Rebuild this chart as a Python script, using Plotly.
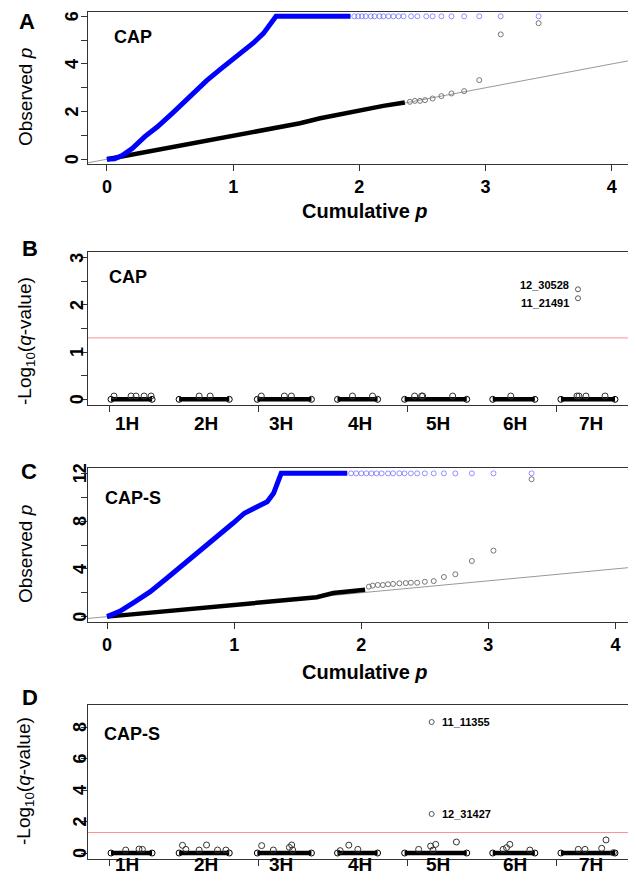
import math
import plotly.graph_objects as go

FONT = "Liberation Sans, Arial, sans-serif"
# page body has an 8px margin -> figure is drawn 8px in from the window edge
OFF = 8
W, H = 636 - OFF, 887 - OFF

# ---------------- Data ----------------
# Panel A (CAP) QQ plot
qqA_blue_dense_x = [0.00, 0.06, 0.12, 0.20, 0.30, 0.40, 0.53, 0.66, 0.79, 0.90, 1.00, 1.08, 1.16, 1.24, 1.30, 1.34, 1.93]
qqA_blue_dense_y = [0.00, 0.02, 0.15, 0.45, 0.95, 1.36, 1.99, 2.65, 3.30, 3.78, 4.18, 4.52, 4.88, 5.28, 5.68, 6.00, 6.00]
qqA_blue_sparse_x = [1.96, 1.99, 2.02, 2.05, 2.09, 2.12, 2.16, 2.19, 2.23, 2.27, 2.31, 2.35, 2.41, 2.46, 2.53,
                     2.58, 2.65, 2.73, 2.83, 2.95, 3.12, 3.42]
qqA_blue_sparse_y = [6.0] * 22
qqA_black_dense_x = [0.00, 0.50, 1.00, 1.53, 1.69, 1.85, 2.03, 2.19, 2.36]
qqA_black_dense_y = [0.00, 0.49, 0.98, 1.51, 1.72, 1.89, 2.11, 2.24, 2.38]
qqA_black_sparse_x = [2.40, 2.44, 2.48, 2.52, 2.58, 2.65, 2.73, 2.83, 2.95, 3.12, 3.42]
qqA_black_sparse_y = [2.41, 2.45, 2.45, 2.48, 2.55, 2.65, 2.76, 2.86, 3.32, 5.24, 5.71]

# Panel C (CAP-S) QQ plot
qqC_blue_dense_x = [0.00, 0.10, 0.20, 0.34, 0.47, 0.60, 0.73, 0.86, 0.99, 1.08, 1.15, 1.20, 1.26, 1.31, 1.35, 1.37, 1.89]
qqC_blue_dense_y = [0.00, 0.45, 1.12, 2.09, 3.21, 4.33, 5.45, 6.70, 7.82, 8.66, 9.08, 9.35, 9.63, 10.33, 11.30, 12.00, 12.00]
qqC_blue_sparse_x = [1.92, 1.96, 2.00, 2.04, 2.08, 2.12, 2.16, 2.21, 2.25, 2.30, 2.34, 2.39, 2.44, 2.50,
                     2.57, 2.65, 2.74, 2.87, 3.04, 3.34]
qqC_blue_sparse_y = [12.0] * 20
qqC_black_dense_x = [0.00, 0.50, 1.00, 1.52, 1.65, 1.78, 1.90, 2.03]
qqC_black_dense_y = [0.00, 0.50, 1.02, 1.45, 1.62, 1.98, 2.10, 2.25]
qqC_black_sparse_x = [2.06, 2.09, 2.13, 2.17, 2.21, 2.25, 2.30, 2.35, 2.39, 2.44, 2.50, 2.57, 2.65, 2.74,
                      2.87, 3.04, 3.34]
qqC_black_sparse_y = [2.51, 2.60, 2.65, 2.65, 2.71, 2.74, 2.79, 2.81, 2.84, 2.84, 2.92, 2.98, 3.32, 3.55,
                      4.66, 5.53, 11.51]

identity_line = [-1.0, 5.0]

# Manhattan plots (B: CAP, D: CAP-S); x = cumulative marker index
chrom_names = ["1H", "2H", "3H", "4H", "5H", "6H", "7H"]
chrom_label_pos = [240, 1298, 2313, 3370, 4412, 5455, 6469]
chrom_start = [27, 941, 1991, 3067, 3968, 5151, 6066]
chrom_end = [578, 1614, 2717, 3605, 4802, 5716, 6792]
x_ticks_pos = [0, 2000, 4000, 6000]
q_threshold = 0.05

manB_x = [67, 296, 363, 471, 565, 1210, 1358, 2044, 2354, 2448, 3268, 3537,
          4102, 4196, 4210, 4613, 5393, 6281, 6308, 6402, 6658]
manB_y = [0.07] * 21
manB_top_x = [6295, 6295]
manB_top_y = [2.33, 2.14]
manB_top_labels = ["12_30528", "11_21491"]
manB_label_y = [2.43, 2.05]

manD_x = [224, 403, 448, 986, 1032, 1210, 1309, 1457, 1569, 2049, 2206, 2421, 2452, 2466,
          3103, 3219, 3340, 4156, 4317, 4385, 4349, 4663, 5290, 5336, 5380, 5649,
          6299, 6389, 6613, 6671, 6770]
manD_y = [0.19, 0.25, 0.23, 0.49, 0.23, 0.19, 0.51, 0.19, 0.19, 0.47, 0.19, 0.36, 0.51, 0.19,
          0.15, 0.50, 0.23, 0.23, 0.44, 0.55, 0.19, 0.70, 0.23, 0.34, 0.55, 0.19,
          0.23, 0.23, 0.30, 0.83, 0.02]
manD_top_x = [4331, 4331]
manD_top_y = [8.32, 2.48]
manD_top_labels = ["11_11355", "12_31427"]

# Axis ticks (major = labelled, minor = unlabelled)
yA_major, yA_minor = [0, 2, 4, 6], [1, 3, 5]
yB_major, yB_minor = [0, 1, 2, 3], [0.5, 1.5, 2.5]
yC_major, yC_minor = [0, 4, 8, 12], [2, 6, 10]
yD_major, yD_minor = [0, 2, 4, 6, 8], []
xQQ_ticks = [0, 1, 2, 3, 4]

# ---------------- Figure ----------------
fig = go.Figure()

def PX(px):
    return (px - OFF) / W

def PY(py):
    return 1 - (py - OFF) / H

BLUE = "#0000ff"
LBLUE = "rgba(60,60,255,0.55)"
GREY = "#777777"

def qq(ax, bdx, bdy, bsx, bsy, kdx, kdy, ksx, ksy):
    xa, ya = ("x", "y") if ax == 1 else (f"x{ax}", f"y{ax}")
    fig.add_trace(go.Scatter(x=identity_line, y=identity_line, mode="lines",
                             line=dict(color="#999999", width=1), xaxis=xa, yaxis=ya, hoverinfo="skip"))
    fig.add_trace(go.Scatter(x=kdx, y=kdy, mode="lines", line=dict(color="black", width=4.5),
                             xaxis=xa, yaxis=ya))
    fig.add_trace(go.Scatter(x=ksx, y=ksy, mode="markers",
                             marker=dict(symbol="circle-open", size=5, color=GREY, line=dict(width=1)),
                             xaxis=xa, yaxis=ya))
    fig.add_trace(go.Scatter(x=bdx, y=bdy, mode="lines", line=dict(color=BLUE, width=5),
                             xaxis=xa, yaxis=ya))
    fig.add_trace(go.Scatter(x=bsx, y=bsy, mode="markers",
                             marker=dict(symbol="circle-open", size=5, color=LBLUE, line=dict(width=1)),
                             xaxis=xa, yaxis=ya))

qq(1, qqA_blue_dense_x, qqA_blue_dense_y, qqA_blue_sparse_x, qqA_blue_sparse_y,
   qqA_black_dense_x, qqA_black_dense_y, qqA_black_sparse_x, qqA_black_sparse_y)
qq(3, qqC_blue_dense_x, qqC_blue_dense_y, qqC_blue_sparse_x, qqC_blue_sparse_y,
   qqC_black_dense_x, qqC_black_dense_y, qqC_black_sparse_x, qqC_black_sparse_y)

band_x, band_y = [], []
for s, e in zip(chrom_start, chrom_end):
    band_x += [s, e, None]
    band_y += [0, 0, None]

thr = -math.log10(q_threshold)

def manhattan(ax, px, py, tx, ty):
    xa, ya = f"x{ax}", f"y{ax}"
    fig.add_shape(type="line", xref=f"{xa} domain", yref=ya, x0=0, x1=1, y0=thr, y1=thr,
                  line=dict(color="#ff9090", width=1), layer="below")
    fig.add_trace(go.Scatter(x=band_x, y=band_y, mode="lines+markers",
                             line=dict(color="black", width=4.5),
                             marker=dict(symbol="circle-open", size=6, color="black", line=dict(width=1)),
                             xaxis=xa, yaxis=ya))
    fig.add_trace(go.Scatter(x=px, y=py, mode="markers",
                             marker=dict(symbol="circle-open", size=6, color="#333333", line=dict(width=1)),
                             xaxis=xa, yaxis=ya))
    fig.add_trace(go.Scatter(x=tx, y=ty, mode="markers",
                             marker=dict(symbol="circle-open", size=5, color="#555555", line=dict(width=1)),
                             xaxis=xa, yaxis=ya))

manhattan(2, manB_x, manB_y, manB_top_x, manB_top_y)
manhattan(4, manD_x, manD_y, manD_top_x, manD_top_y)

# ---------------- Axes ----------------
xdom = [PX(88), PX(632)]
def ydom(top, bot):
    return [PY(bot), PY(top)]

tickfont = dict(family=FONT, size=18, color="black", weight="bold")
base = dict(showline=True, linecolor="#333333", linewidth=1, mirror=True, ticks="outside",
            ticklen=6, tickwidth=1, tickcolor="#333333", showgrid=False, zeroline=False,
            tickfont=tickfont, domain=xdom, automargin=False)

def yax(top, bot, rng, major, minor, anchor):
    d = dict(base)
    d.update(domain=ydom(top, bot), range=rng, tickvals=major, showticklabels=False, anchor=anchor,
             minor=dict(tickvals=minor, ticks="outside", ticklen=6, tickwidth=1, tickcolor="#333333",
                        showgrid=False))
    return d

def xax(rng, tv, anchor, labels=True):
    d = dict(base)
    d.update(range=rng, tickvals=tv, anchor=anchor, showticklabels=labels)
    return d

fig.update_layout(
    xaxis=xax([-0.15, 4.16], xQQ_ticks, "y"),
    yaxis=yax(12, 164, [-0.2, 6.18], yA_major, yA_minor, "x"),
    xaxis2=xax([-282, 7020], x_ticks_pos, "y2", labels=False),
    yaxis2=yax(252, 405, [-0.12, 3.12], yB_major, yB_minor, "x2"),
    xaxis3=xax([-0.15, 4.13], xQQ_ticks, "y3"),
    yaxis3=yax(468, 622, [-0.45, 12.45], yC_major, yC_minor, "x3"),
    xaxis4=xax([-282, 7020], x_ticks_pos, "y4", labels=False),
    yaxis4=yax(705, 859, [-0.38, 9.4], yD_major, yD_minor, "x4"),
)

# rotated y tick labels (as in R's default las=0)
for ya, major, xpx in [("y", yA_major, 60), ("y2", yB_major, 65), ("y3", yC_major, 68), ("y4", yD_major, 68)]:
    for v in major:
        fig.add_annotation(text=str(v), x=PX(xpx), xref="paper", y=v, yref=ya, showarrow=False,
                           textangle=-90, font=dict(family=FONT, size=18, color="black", weight="bold"))

# ---------------- Annotations ----------------
def ann(text, px, py, size, bold=False, angle=0, xanchor="center", yanchor="middle"):
    fig.add_annotation(text=text, x=PX(px), y=PY(py), xref="paper", yref="paper", showarrow=False,
                       textangle=angle, xanchor=xanchor, yanchor=yanchor,
                       font=dict(family=FONT, size=size, color="black", weight="bold" if bold else "normal"))

for t, px, py in [("A", 27, 22), ("B", 30, 248), ("C", 29, 471), ("D", 30, 697)]:
    ann(t, px, py, 22, bold=True)

ann("Observed <i>p</i>", 25, 97, 19, angle=-90)
ann("Observed <i>p</i>", 25, 554, 19, angle=-90)
ann("-Log<sub>10</sub>(<i>q</i>-value)", 26, 341, 19, angle=-90)
ann("-Log<sub>10</sub>(<i>q</i>-value)", 25, 781, 19, angle=-90)

ann("Cumulative <i>p</i>", 365, 211, 20, bold=True)
ann("Cumulative <i>p</i>", 365, 672, 20, bold=True)

ann("CAP", 112, 37, 18, bold=True, xanchor="left")
ann("CAP", 107, 277, 18, bold=True, xanchor="left")
ann("CAP-S", 103, 498, 18, bold=True, xanchor="left")
ann("CAP-S", 102, 734, 18, bold=True, xanchor="left")

for name, pos in zip(chrom_names, chrom_label_pos):
    for xa, py in [("x2", 423), ("x4", 877)]:
        fig.add_annotation(text=name, x=pos, xref=xa, y=PY(py), yref="paper", showarrow=False,
                           font=dict(family=FONT, size=19, color="black", weight="bold"))

for lab, px, ly in zip(manB_top_labels, manB_top_x, manB_label_y):
    fig.add_annotation(text=lab, x=px, y=ly, xref="x2", yref="y2", showarrow=False, xanchor="right",
                       xshift=-7, font=dict(family=FONT, size=11, color="black", weight="bold"))
for lab, px, ly in zip(manD_top_labels, manD_top_x, manD_top_y):
    fig.add_annotation(text=lab, x=px, y=ly, xref="x4", yref="y4", showarrow=False, xanchor="left",
                       xshift=8, font=dict(family=FONT, size=11, color="black", weight="bold"))

fig.update_layout(width=W, height=H, margin=dict(l=0, r=0, t=0, b=0), showlegend=False,
                  paper_bgcolor="white", plot_bgcolor="white")

fig.write_html("out.html")
